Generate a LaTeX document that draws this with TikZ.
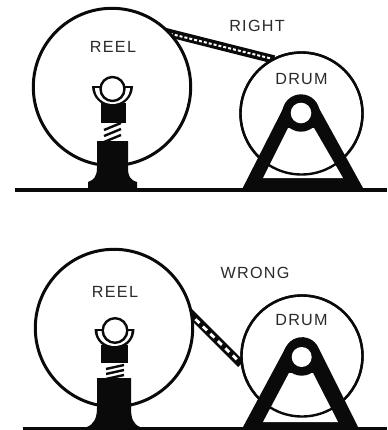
\documentclass[tikz,border=0pt]{standalone}
\usepackage{fontspec}
\setmainfont{Liberation Sans}
\definecolor{inkblack}{HTML}{0A0A0A}
\definecolor{labelgray}{HTML}{2A2A2A}
\tikzset{
  lbl/.style={text=labelgray, font=\fontsize{11.5}{12}\selectfont\addfontfeature{LetterSpace=8}, inner sep=0pt},
  ringline/.style={draw=inkblack, line width=0.75mm, fill=white},
  drumline/.style={draw=inkblack, line width=0.6mm},
  solidpart/.style={fill=inkblack, draw=none},
  hatchline/.style={inkblack, line width=0.6mm}
}
\begin{document}
\begin{tikzpicture}[x=0.25mm, y=-0.25mm]
  \useasboundingbox (0,0) rectangle (387,430);
  \fill[white] (0,0) rectangle (387,430);

  % top: RIGHT
  \draw[line width=2.1mm, inkblack] (165,32) -- (274,59.5);
  \draw[line width=0.5mm, white, dash pattern=on 0.75mm off 0.5mm] (165,32.5) -- (271,58.5);
  \draw[ringline] (112,87) circle (78.7);
  \draw[drumline, fill=white] (301.5,113.5) circle (61);
  \fill[solidpart] (242.7,188) -- (285,104.8) arc (207:333:18) -- (363,188) -- cycle;
  \fill[white] (263,178) -- (288,128) -- (314,128) -- (343,178) -- cycle;
  \fill[inkblack] (301,113) circle (18.7);
  \fill[white] (301,113) circle (10.3);
  \draw[drumline] (301.5,113.5) circle (61);
  \node[lbl] (reeltop) at (113,47) {REEL};
  \node[lbl] (drumtop) at (301.5,79) {DRUM};
  \node[lbl] (labelright) at (257,25.5) {RIGHT};
  % stand
  \fill[solidpart] (97,141) -- (128,141) -- (128,168) .. controls (128,176) and (130,180) .. (137,182) -- (137,188) -- (88,188) -- (88,182) .. controls (94,180) and (97,176) .. (97,168) -- cycle;
  \fill[white] (104,123) rectangle (121,141);
  \foreach \k in {0,1,2}
    \draw[hatchline] (104,130+\k*6) -- (121,123+\k*6);
  \fill[inkblack] (101,103) rectangle (126,123);
  \fill[inkblack] (92,86) arc (180:0:20.5) -- cycle;
  \fill[white] (95,88) arc (180:0:17.5 and 16) -- cycle;
  \draw[drumline, fill=white] (112.5,89) circle (12);
  \fill[inkblack] (15,188) rectangle (387,192);

  % bottom: WRONG
  \draw[line width=2.1mm, inkblack] (188,311) -- (241,364);
  \draw[line width=0.7mm, white, dash pattern=on 1.4mm off 1.2mm] (188,312) -- (239,361.5);
  \draw[ringline] (114,328) circle (78.7);
  \draw[drumline, fill=white] (302,356) circle (60.5);
  \fill[solidpart] (243,427) -- (286,347) arc (207:333:18) -- (358,427) -- cycle;
  \fill[white] (263,422) -- (289,373) -- (313,373) -- (338,422) -- cycle;
  \fill[inkblack] (301.7,357) circle (18.7);
  \fill[white] (301.7,357) circle (10);
  \draw[drumline] (302,356) circle (60.5);
  \node[lbl] (reelbottom) at (115,292) {REEL};
  \node[lbl] (drumbottom) at (301.5,320.5) {DRUM};
  \node[lbl] (labelwrong) at (255,272.5) {WRONG};
  % stand
  \fill[solidpart] (97,378) -- (131,378) -- (131,408) .. controls (131,418) and (133,424) .. (140,427) -- (87,427) .. controls (94,424) and (97,418) .. (97,408) -- cycle;
  \fill[white] (106,363) rectangle (124,378);
  \foreach \k in {0,1,2}
    \draw[hatchline] (106,369+\k*5) -- (124,365+\k*5);
  \fill[inkblack] (101,345) rectangle (128,363);
  \fill[inkblack] (94.5,329) arc (180:0:20) -- cycle;
  \fill[white] (97.5,331) arc (180:0:17 and 15) -- cycle;
  \draw[drumline, fill=white] (115,330.5) circle (12.3);
  \fill[inkblack] (23,427) rectangle (387,430);
\end{tikzpicture}
\end{document}
